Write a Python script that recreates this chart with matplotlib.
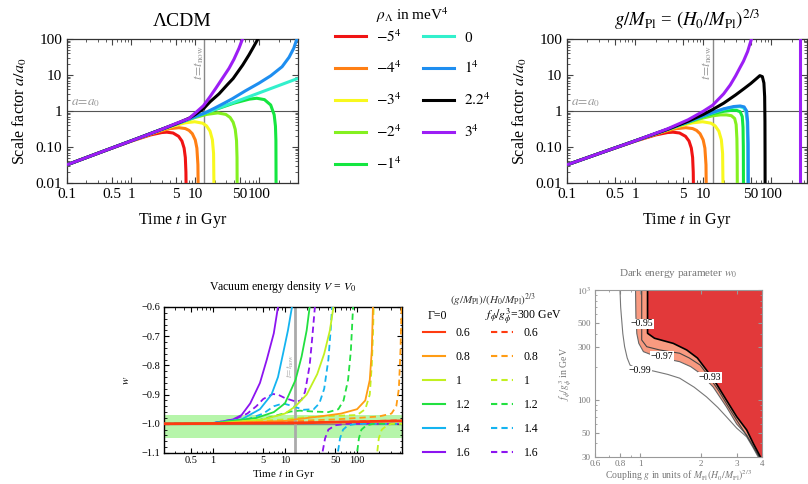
import matplotlib
matplotlib.use('Agg')
import matplotlib.pyplot as plt
from matplotlib.lines import Line2D
from matplotlib.ticker import LogLocator, NullFormatter, MultipleLocator

plt.rcParams['font.family'] = ['Liberation Serif', 'DejaVu Serif']
plt.rcParams['mathtext.fontset'] = 'stix'

# ---------------- data: top-left, LambdaCDM (t in Gyr, a/a0) ----------------
lcdm_red_t = [0.1, 0.3, 1, 2, 3, 3.6, 4.5, 5.5, 6.2, 6.7, 7.0, 7.15, 7.22]
lcdm_red_a = [0.032, 0.0665, 0.145, 0.216, 0.252, 0.258, 0.245, 0.198, 0.146, 0.093, 0.051, 0.02, 0.005]
lcdm_orange_t = [0.1, 0.3, 1, 2, 3, 4, 5.55, 7, 8, 9, 10, 10.6, 11, 11.12]
lcdm_orange_a = [0.032, 0.0666, 0.147, 0.227, 0.284, 0.322, 0.344, 0.325, 0.289, 0.234, 0.157, 0.093, 0.032, 0.005]
lcdm_yellow_t = [0.1, 0.3, 1, 3, 5, 7, 9.8, 13, 15, 17, 18.5, 19.3, 19.62]
lcdm_yellow_a = [0.032, 0.0666, 0.148, 0.301, 0.403, 0.469, 0.503, 0.459, 0.386, 0.275, 0.158, 0.066, 0.005]
lcdm_lime_t = [0.1, 0.3, 1, 3, 6, 10, 15, 22.5, 30, 35, 39, 42, 44, 44.8, 45.05]
lcdm_lime_a = [0.032, 0.0666, 0.148, 0.31, 0.486, 0.659, 0.804, 0.885, 0.804, 0.659, 0.486, 0.31, 0.15, 0.051, 0.005]
lcdm_green_t = [0.1, 0.3, 1, 3, 10, 20, 40, 70, 91, 120, 150, 170, 178, 181, 182.2]
lcdm_green_a = [0.032, 0.0666, 0.148, 0.31, 0.69, 1.08, 1.65, 2.14, 2.26, 2.07, 1.47, 0.786, 0.38, 0.151, 0.005]
lcdm_cyan_t = [0.1, 1, 10, 100, 400]
lcdm_cyan_a = [0.032, 0.1485, 0.689, 3.2, 8.06]
lcdm_blue_t = [0.1, 0.3, 1, 3, 6, 10, 13.8, 20, 30, 38, 60, 98, 150, 226, 290, 343, 384, 400]
lcdm_blue_a = [0.032, 0.0666, 0.148, 0.31, 0.49, 0.70, 0.87, 1.2, 1.75, 2.2, 3.6, 5.9, 9.5, 17, 31, 55, 100, 125]
lcdm_black_t = [0.1, 0.3, 1, 3, 5, 8, 10, 13.4, 17, 23.5, 32, 39, 55, 68.7, 80, 96]
lcdm_black_a = [0.032, 0.0666, 0.148, 0.31, 0.44, 0.63, 0.8, 1.15, 1.8, 3.0, 5.5, 8.0, 19, 36, 58, 104]
lcdm_purple_t = [0.1, 0.3, 1, 2, 3, 5, 8, 10.5, 13.4, 17, 20.9, 27, 33.6, 40, 48, 55]
lcdm_purple_a = [0.032, 0.0666, 0.148, 0.235, 0.31, 0.45, 0.62, 0.95, 1.4, 2.5, 4.27, 8.5, 15.3, 27, 55, 104]

# ---------------- data: top-right, coupled case ----------------
cpl_lime_t = [0.1, 0.3, 1, 3, 6, 10, 14, 18, 22, 26, 29, 30.5, 31.3, 31.6, 31.75]
cpl_lime_a = [0.032, 0.0666, 0.148, 0.31, 0.48, 0.64, 0.74, 0.78, 0.78, 0.74, 0.62, 0.42, 0.17, 0.05, 0.005]
cpl_green_t = [0.1, 0.3, 1, 3, 6, 10, 14, 20, 26, 31, 35, 37.5, 38.5, 38.9, 39.1]
cpl_green_a = [0.032, 0.0666, 0.148, 0.31, 0.49, 0.7, 0.85, 0.98, 1.04, 1.04, 0.95, 0.7, 0.35, 0.1, 0.005]
cpl_cyan_t = [0.1, 0.3, 1, 3, 6, 10, 14, 20, 28, 34, 39, 42.5, 44.3, 45.1, 45.4]
cpl_cyan_a = [0.032, 0.0666, 0.148, 0.31, 0.5, 0.72, 0.9, 1.12, 1.28, 1.32, 1.25, 0.95, 0.5, 0.12, 0.005]
cpl_blue_t = [0.1, 0.3, 1, 3, 6, 10, 14, 20, 28, 35, 40, 43.5, 45, 45.8, 46.1]
cpl_blue_a = [0.032, 0.0666, 0.148, 0.31, 0.5, 0.73, 0.92, 1.15, 1.33, 1.38, 1.3, 1.0, 0.5, 0.12, 0.005]
cpl_black_t = [0.1, 0.3, 1, 3, 6, 10, 13.8, 20, 30, 40, 50, 60, 68, 74, 78, 80, 80.8, 81.1, 81.25]
cpl_black_a = [0.032, 0.0666, 0.148, 0.31, 0.52, 0.8, 1.1, 1.65, 2.8, 4.2, 5.8, 7.8, 9.6, 9.0, 6.0, 2.5, 0.5, 0.05, 0.005]
cpl_purple_t = [0.1, 0.3, 1, 3, 6, 10, 13.8, 20, 25, 30, 35, 39, 45, 51.5]
cpl_purple_a = [0.032, 0.0666, 0.148, 0.32, 0.57, 0.98, 1.45, 3.0, 5.3, 9.5, 16.5, 24, 45, 104]
cpl_purple_late_t = [263, 263]
cpl_purple_late_a = [0.005, 200]

rho_labels = [r'$-5^4$', r'$-4^4$', r'$-3^4$', r'$-2^4$', r'$-1^4$', '0', r'$1^4$', r'$2.2^4$', r'$3^4$']
rho_colors = ['#f01414', '#ff7f14', '#f8f81e', '#84f020', '#14e640', '#32f0cc', '#1e8ef0', '#000000', '#9c1ef5']

scale_xticks = [0.1, 0.5, 1, 5, 10, 50, 100]
scale_xticklabels = ['0.1', '0.5', '1', '5', '10', '50', '100']
scale_yticks = [0.01, 0.1, 1, 10, 100]
scale_yticklabels = ['0.01', '0.10', '1', '10', '100']
t_now = 13.8

# ---------------- data: bottom-left, w(t) ----------------
g_values = ['0.6', '0.8', '1', '1.2', '1.4', '1.6']
g_colors = ['#ff3b10', '#ff9c14', '#c2f020', '#22e040', '#14b4f0', '#8c14f0']

w_solid_06_t = [0.21, 14, 100, 420]
w_solid_06_w = [-1.0, -0.997, -0.993, -0.99]
w_solid_08_t = [0.21, 1, 10, 14, 30, 60, 100, 130, 150, 160, 166, 169]
w_solid_08_w = [-1.0, -0.999, -0.99, -0.985, -0.975, -0.965, -0.95, -0.92, -0.85, -0.75, -0.6, -0.5]
w_solid_10_t = [0.21, 1, 5, 10, 14, 20, 28, 35, 42, 47, 49]
w_solid_10_w = [-1.0, -0.999, -0.985, -0.965, -0.94, -0.9, -0.83, -0.76, -0.68, -0.6, -0.55]
w_solid_12_t = [0.21, 1, 4, 7, 10, 14, 17, 20, 22, 23]
w_solid_12_w = [-1.0, -0.998, -0.98, -0.96, -0.93, -0.85, -0.77, -0.68, -0.6, -0.55]
w_solid_14_t = [0.21, 1, 2.5, 4.5, 6.5, 8, 9.4, 11, 12.5, 13.2]
w_solid_14_w = [-1.0, -0.997, -0.985, -0.95, -0.9, -0.84, -0.76, -0.68, -0.6, -0.55]
w_solid_16_t = [0.21, 1, 1.9, 2.5, 3.3, 4.5, 5.6, 7, 8, 8.4]
w_solid_16_w = [-1.0, -0.998, -0.985, -0.97, -0.93, -0.86, -0.78, -0.69, -0.6, -0.55]

w_dash_06_t = [0.21, 14, 100, 420]
w_dash_06_w = [-1.0, -0.996, -0.992, -0.988]
w_dash_08_t = [0.21, 1, 14, 50, 100, 200, 300, 350, 380, 400, 415, 420]
w_dash_08_w = [-1.0, -0.999, -0.99, -0.985, -0.98, -0.975, -0.965, -0.94, -0.88, -0.75, -0.6, -0.55]
w_dash_10_t = [0.21, 1, 10, 14, 30, 60, 100, 130, 150, 160, 166, 170, 172]
w_dash_10_w = [-1.0, -0.999, -0.985, -0.98, -0.975, -0.972, -0.97, -0.95, -0.9, -0.8, -0.7, -0.6, -0.55]
w_dash_10b_t = [185, 190, 200, 220, 260, 300, 420]
w_dash_10b_w = [-1.2, -1.1, -1.05, -1.02, -1.005, -1.0, -1.0]
w_dash_12_t = [0.21, 1, 4, 8, 12, 16, 25, 40, 55, 65, 75, 82, 88, 90]
w_dash_12_w = [-1.0, -0.998, -0.99, -0.97, -0.958, -0.955, -0.958, -0.96, -0.95, -0.92, -0.85, -0.75, -0.6, -0.55]
w_dash_12b_t = [95, 100, 106, 115, 135, 170, 420]
w_dash_12b_w = [-1.2, -1.1, -1.05, -1.02, -1.005, -1.0, -1.0]
w_dash_14_t = [0.21, 1, 3, 5, 7, 9.4, 13, 18, 25, 30, 35, 40, 43, 45, 46]
w_dash_14_w = [-1.0, -0.998, -0.985, -0.965, -0.94, -0.93, -0.94, -0.952, -0.95, -0.93, -0.88, -0.78, -0.68, -0.6, -0.55]
w_dash_14b_t = [50, 54, 58, 64, 75, 100, 420]
w_dash_14b_w = [-1.2, -1.1, -1.05, -1.02, -1.005, -1.0, -1.0]
w_dash_16_t = [0.21, 1, 2, 3, 4, 5, 6.8, 8, 10, 14.6, 17, 19, 22, 24, 26, 27]
w_dash_16_w = [-1.0, -0.997, -0.985, -0.965, -0.94, -0.915, -0.898, -0.9, -0.912, -0.925, -0.918, -0.89, -0.8, -0.7, -0.6, -0.55]
w_dash_16b_t = [31, 33, 36, 40, 50, 70, 420]
w_dash_16b_w = [-1.2, -1.1, -1.05, -1.02, -1.005, -1.0, -1.0]

w_band = [-1.05, -0.97]
w_xticks = [0.5, 1, 5, 10, 50, 100]
w_xticklabels = ['0.5', '1', '5', '10', '50', '100']
w_yticks = [-1.1, -1.0, -0.9, -0.8, -0.7, -0.6]
w_yticklabels = ['\u22121.1', '\u22121.0', '\u22120.9', '\u22120.8', '\u22120.7', '\u22120.6']

# ---------------- data: bottom-right, w0 contours (f in GeV, g) ----------------
c99_f = [1000, 700, 571, 400, 304, 240, 207, 193, 187, 183, 170, 157, 130, 106, 85, 69.8, 55, 45.8, 37, 30]
c99_g = [0.797, 0.803, 0.81, 0.823, 0.84, 0.865, 0.893, 0.96, 1.05, 1.158, 1.37, 1.57, 1.85, 2.13, 2.42, 2.67, 3.0, 3.36, 3.6, 3.83]
c97_f = [1000, 571, 400, 326, 274, 246, 222, 200, 174, 130, 86, 60, 47.6, 38, 30]
c97_g = [0.951, 0.955, 0.965, 0.987, 1.04, 1.21, 1.57, 1.78, 1.98, 2.3, 2.67, 3.0, 3.36, 3.6, 3.87]
c95_f = [1000, 600, 350, 304, 284, 265, 240, 207, 160, 120, 92, 65, 47, 30]
c95_g = [1.02, 1.02, 1.02, 1.08, 1.25, 1.57, 1.75, 1.98, 2.2, 2.45, 2.67, 3.0, 3.36, 3.88]
c93_f = [1000, 600, 403, 363, 326, 284, 240, 186, 140, 99, 70, 53, 40, 30]
c93_g = [1.09, 1.09, 1.09, 1.18, 1.46, 1.70, 1.92, 2.13, 2.38, 2.67, 3.0, 3.36, 3.62, 3.93]
contour_labels = ['\u22120.99', '\u22120.97', '\u22120.95', '\u22120.93']
contour_label_g = [1.0, 1.28, 1.02, 2.21]
contour_label_f = [183, 250, 490, 159]
w0_xlim = [0.6, 4]
w0_ylim = [30, 1000]
w0_xticks = [0.6, 0.8, 1, 2, 3, 4]
w0_xticklabels = ['0.6', '0.8', '1', '2', '3', '4']
w0_yticks = [30, 50, 100, 300, 500, 1000]
w0_yticklabels = ['30', '50', '100', '300', '500', r'$10^3$']

# ---------------- figure ----------------
W, H = 808, 484
fig = plt.figure(figsize=(W / 100, H / 100), dpi=100)


def px_axes(left, top, right, bottom):
    return fig.add_axes([left / W, 1 - bottom / H, (right - left) / W, (bottom - top) / H])


def style_scale(ax, xmax):
    ax.set_xscale('log')
    ax.set_yscale('log')
    ax.set_xlim(0.1, xmax)
    ax.set_ylim(0.01, 100)
    ax.set_xticks(scale_xticks)
    ax.set_xticklabels(scale_xticklabels)
    ax.set_yticks(scale_yticks)
    ax.set_yticklabels(scale_yticklabels)
    ax.xaxis.set_minor_locator(LogLocator(subs=range(2, 10)))
    ax.yaxis.set_minor_locator(LogLocator(subs=range(2, 10)))
    ax.xaxis.set_minor_formatter(NullFormatter())
    ax.yaxis.set_minor_formatter(NullFormatter())
    ax.tick_params(which='both', direction='in', top=True, right=True, labelsize=11, color='#444444')
    ax.tick_params(which='major', length=4)
    ax.tick_params(which='minor', length=2)
    ax.set_xlabel('Time $t$ in Gyr', fontsize=11.5, labelpad=7)
    ax.set_ylabel('Scale factor $a/a_0$', fontsize=11.5, labelpad=5)
    ax.axhline(1, color='#555555', lw=0.8, zorder=1)
    ax.axvline(t_now, color='#888888', lw=1.0, zorder=1)
    ax.text(0.115, 1.12, r'$a\!=\!a_0$', color='#999999', fontsize=9.5, ha='left', va='bottom')
    ax.text(11.6, 22, r'$t\!=\!t_{\rm now}$', color='#999999', fontsize=9.5, rotation=90,
            ha='center', va='center')
    for s in ax.spines.values():
        s.set_color('#333333')
        s.set_linewidth(0.9)


# top-left
ax1 = px_axes(67, 39, 298, 183)
style_scale(ax1, 400)
lcdm_curves = [(lcdm_red_t, lcdm_red_a), (lcdm_orange_t, lcdm_orange_a), (lcdm_yellow_t, lcdm_yellow_a),
               (lcdm_lime_t, lcdm_lime_a), (lcdm_green_t, lcdm_green_a), (lcdm_cyan_t, lcdm_cyan_a),
               (lcdm_blue_t, lcdm_blue_a), (lcdm_black_t, lcdm_black_a), (lcdm_purple_t, lcdm_purple_a)]
for (t, a), c in zip(lcdm_curves, rho_colors):
    ax1.plot(t, a, color=c, lw=2.2, solid_capstyle='butt', zorder=3)
ax1.set_title('\u039bCDM', fontsize=14, pad=9)

# top-right
ax2 = px_axes(567, 39, 807, 183)
style_scale(ax2, 335)
cpl_curves = [(lcdm_red_t, lcdm_red_a), (lcdm_orange_t, lcdm_orange_a), (lcdm_yellow_t, lcdm_yellow_a),
              (cpl_lime_t, cpl_lime_a), (cpl_green_t, cpl_green_a), (cpl_cyan_t, cpl_cyan_a),
              (cpl_blue_t, cpl_blue_a), (cpl_black_t, cpl_black_a), (cpl_purple_t, cpl_purple_a)]
for (t, a), c in zip(cpl_curves, rho_colors):
    ax2.plot(t, a, color=c, lw=2.2, solid_capstyle='butt', zorder=3)
ax2.plot(cpl_purple_late_t, cpl_purple_late_a, color=rho_colors[-1], lw=2.2, zorder=3)
ax2.set_title(r'$g/M_{\rm Pl}$ = $(H_0/M_{\rm Pl})^{2/3}$', fontsize=13.5, pad=9)

# top legend
rho_handles = [Line2D([], [], color=c, lw=2.2) for c in rho_colors]
fig.legend(rho_handles, rho_labels, ncol=2, loc='upper left', bbox_to_anchor=(335 / W, 1 - 28 / H),
           fontsize=11, frameon=False, handlelength=2.0, handletextpad=0.7, labelspacing=1.0,
           columnspacing=1.4, borderpad=0, borderaxespad=0)
fig.text(412 / W, 1 - 15 / H, r'$\rho_\Lambda$ in meV$^4$', fontsize=11, ha='center', va='center')

# bottom-left
ax3 = px_axes(164, 307, 402, 453)
ax3.set_xscale('log')
ax3.set_xlim(0.21, 420)
ax3.set_ylim(-1.1, -0.6)
ax3.axhspan(w_band[0], w_band[1], color='#b6f5aa', lw=0, zorder=0)
ax3.axhline(-1.0, color='#888888', lw=1.0, zorder=1)
ax3.axvline(t_now, color='#aaaaaa', lw=2.0, zorder=1)
ax3.text(12.0, -0.80, r'$t\!=\!t_{\rm now}$', color='#aaaaaa', fontsize=6.5, rotation=90,
         ha='center', va='center')

solid_sets = [[(w_solid_06_t, w_solid_06_w)], [(w_solid_08_t, w_solid_08_w)], [(w_solid_10_t, w_solid_10_w)],
              [(w_solid_12_t, w_solid_12_w)], [(w_solid_14_t, w_solid_14_w)], [(w_solid_16_t, w_solid_16_w)]]
dash_sets = [[(w_dash_06_t, w_dash_06_w)], [(w_dash_08_t, w_dash_08_w)],
             [(w_dash_10_t, w_dash_10_w), (w_dash_10b_t, w_dash_10b_w)],
             [(w_dash_12_t, w_dash_12_w), (w_dash_12b_t, w_dash_12b_w)],
             [(w_dash_14_t, w_dash_14_w), (w_dash_14b_t, w_dash_14b_w)],
             [(w_dash_16_t, w_dash_16_w), (w_dash_16b_t, w_dash_16b_w)]]
for i in range(5, -1, -1):
    for t, w in dash_sets[i]:
        ax3.plot(t, w, color=g_colors[i], lw=1.3, dashes=(3.5, 2.2), zorder=3)
    for t, w in solid_sets[i]:
        ax3.plot(t, w, color=g_colors[i], lw=1.3 if i else 2.0, zorder=4)

ax3.set_xticks(w_xticks)
ax3.set_xticklabels(w_xticklabels)
ax3.set_yticks(w_yticks)
ax3.set_yticklabels(w_yticklabels)
ax3.xaxis.set_minor_locator(LogLocator(subs=range(2, 10)))
ax3.xaxis.set_minor_formatter(NullFormatter())
ax3.yaxis.set_minor_locator(MultipleLocator(0.02))
ax3.tick_params(which='both', direction='in', top=True, right=True, labelsize=7.5, pad=2.5)
ax3.tick_params(which='major', length=3.5)
ax3.tick_params(which='minor', length=1.8)
ax3.set_xlabel('Time $t$ in Gyr', fontsize=8, labelpad=2)
ax3.set_ylabel('$w$', fontsize=8, labelpad=8)
ax3.set_title('Vacuum energy density $V$ = $V_0$', fontsize=8.5, pad=12)
for s in ax3.spines.values():
    s.set_linewidth(1.0)

# bottom-left legend: solid column (Gamma=0) and dashed column
w_handles = ([Line2D([], [], color=c, lw=1.5) for c in g_colors] +
             [Line2D([], [], color=c, lw=1.5, dashes=(3, 2)) for c in g_colors])
fig.legend(w_handles, g_values + g_values, ncol=2, loc='upper left', bbox_to_anchor=(423 / W, 1 - 327 / H),
           fontsize=8.5, frameon=False, handlelength=1.9, handletextpad=0.85, labelspacing=1.02,
           columnspacing=1.75, borderpad=0, borderaxespad=0)
fig.text(428 / W, 1 - 316 / H, '\u0393=0', fontsize=8.5, ha='left', va='center')
fig.text(485 / W, 1 - 316 / H, r'$f_\phi/g_\phi^3$=300 GeV', fontsize=8.5, ha='left', va='center')
fig.text(493 / W, 1 - 300 / H, r'$(g/M_{\rm Pl})/(H_0/M_{\rm Pl})^{2/3}$', fontsize=8,
         ha='center', va='center', color='#333333')

# bottom-right
ax4 = px_axes(595, 290, 762, 457)
ax4.set_xscale('log')
ax4.set_yscale('log')
ax4.set_xlim(w0_xlim)
ax4.set_ylim(w0_ylim)
ax4.fill(c97_g + c93_g[::-1], c97_f + c93_f[::-1], color='#f99a80', lw=0, zorder=1)
ax4.fill(c93_g + [w0_xlim[1], w0_xlim[1]], c93_f + [w0_ylim[0], w0_ylim[1]], color='#e2393a', lw=0, zorder=1)
ax4.plot(c99_g, c99_f, color='#777777', lw=0.8, zorder=2)
ax4.plot(c97_g, c97_f, color='#666666', lw=0.8, zorder=2)
ax4.plot(c95_g, c95_f, color='#444444', lw=0.8, zorder=2)
ax4.plot(c93_g, c93_f, color='#000000', lw=1.2, zorder=2)
for lab, g, f in zip(contour_labels, contour_label_g, contour_label_f):
    ax4.text(g, f, lab, fontsize=7, ha='center', va='center', zorder=5,
             bbox=dict(facecolor='white', edgecolor='none', pad=0.6))
ax4.set_xticks(w0_xticks)
ax4.set_xticklabels(w0_xticklabels)
ax4.set_yticks(w0_yticks)
ax4.set_yticklabels(w0_yticklabels)
ax4.xaxis.set_minor_locator(LogLocator(subs=range(2, 10)))
ax4.yaxis.set_minor_locator(LogLocator(subs=range(2, 10)))
ax4.xaxis.set_minor_formatter(NullFormatter())
ax4.yaxis.set_minor_formatter(NullFormatter())
ax4.tick_params(which='both', direction='in', top=True, right=True, labelsize=6.5,
                labelcolor='#777777', color='#999999')
ax4.tick_params(axis='x', which='both', pad=2)
ax4.tick_params(axis='y', which='both', pad=3)
ax4.tick_params(which='major', length=3)
ax4.tick_params(which='minor', length=1.5)
for s in ax4.spines.values():
    s.set_color('#999999')
ax4.set_xlabel(r'Coupling $g$ in units of $M_{\rm Pl}(H_0/M_{\rm Pl})^{2/3}$', fontsize=7,
               color='#777777', labelpad=0)
ax4.set_ylabel(r'$f_\phi/g_\phi^3$ in GeV', fontsize=7, color='#777777', labelpad=2)
ax4.set_title('Dark energy parameter $w_0$', fontsize=8, color='#777777', pad=10)

fig.savefig('out.png', dpi=100)
